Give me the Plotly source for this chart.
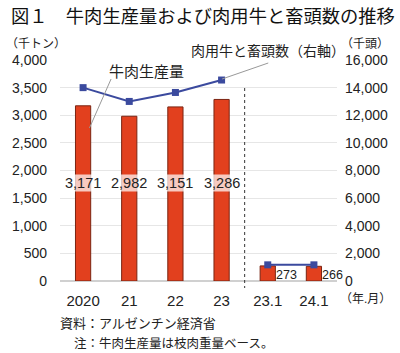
import plotly.graph_objects as go

categories = ["2020", "21", "22", "23", "23.1", "24.1"]
beef_production = [3171, 2982, 3151, 3286, 273, 266]
cattle_slaughter = [14000, 13000, 13650, 14550, None, None]
cattle_slaughter_monthly = [None, None, None, None, 1170, 1170]
bar_labels = ["3,171", "2,982", "3,151", "3,286", "273", "266"]

FONT = "Arial, Liberation Sans, Noto Sans CJK JP"
BAR = "#E2401E"
LINE = "#3B4A9E"

L, R, T, B = 60, 58, 60, 72
W, H = 400, 353
pw, ph = W - L - R, H - T - B
def px(x): return (x - L) / pw
def py(y): return (H - B - y) / ph

fig = go.Figure()
fig.add_trace(go.Bar(x=categories, y=beef_production, marker=dict(color=BAR, line=dict(color="#7A2412", width=1)),
                     width=0.33, yaxis="y", showlegend=False, hoverinfo="skip"))
fig.add_trace(go.Scatter(x=categories, y=cattle_slaughter, mode="lines+markers", yaxis="y2",
                         line=dict(color=LINE, width=2), marker=dict(symbol="square", size=7, color=LINE),
                         showlegend=False, connectgaps=False))
fig.add_trace(go.Scatter(x=categories, y=cattle_slaughter_monthly, mode="lines+markers", yaxis="y2",
                         line=dict(color=LINE, width=2), marker=dict(symbol="square", size=7, color=LINE),
                         showlegend=False, connectgaps=False))

# bar value labels
for i, (v, t) in enumerate(zip(beef_production, bar_labels)):
    if v > 1000:
        fig.add_annotation(x=i, y=1780, text=t, showarrow=False, xref="x", yref="y",
                           font=dict(size=14.5, color="#222", family=FONT),
                           bgcolor="rgba(255,255,255,0.72)", borderpad=0)
    else:
        fig.add_annotation(x=i, y=v * 0.4, text=t, showarrow=False, xref="x", yref="y",
                           xshift=19, font=dict(size=12.5, color="#222", family=FONT))

# dashed separator
fig.add_shape(type="line", x0=3.5, x1=3.5, xref="x", y0=py(88), y1=py(288), yref="paper",
              line=dict(color="#333", width=1, dash="dot"))

def ann(x, y, text, size=12, anchor="center", color="#222"):
    fig.add_annotation(x=px(x), y=py(y), xref="paper", yref="paper", xanchor=anchor, yanchor="middle",
                       text=text, showarrow=False, font=dict(size=size, color=color, family=FONT))

def seg(x0, y0, x1, y1):
    fig.add_shape(type="line", xref="paper", yref="paper", x0=px(x0), y0=py(y0), x1=px(x1), y1=py(y1),
                  line=dict(color="#999", width=1))

# callouts
ann(148, 71, "牛肉生産量", 15)
seg(112, 79, 90, 128)
ann(272, 51, "肉用牛と畜頭数（右軸）", 14)
seg(272, 63, 225, 79)

# title, units, notes
ann(8, 16, "図１　牛肉生産量および肉用牛と畜頭数の推移", 18.3, "left", "#111")
ann(3, 44, "（千トン）", 12, "left")
ann(397, 44, "（千頭）", 12, "right")
ann(343, 299, "（年.月）", 12, "left")
ann(58, 323, "資料：アルゼンチン経済省", 13, "left")
ann(72, 343, "注：牛肉生産量は枝肉重量ベース。", 12.5, "left")

fig.update_layout(
    width=W, height=H,
    margin=dict(l=L, r=R, t=T, b=B),
    paper_bgcolor="white", plot_bgcolor="white",
    font=dict(family=FONT, color="#222", size=13),
    xaxis=dict(type="category", range=[-0.5, 5.5], autorange=False, showgrid=False, showline=False,
               ticks="", tickfont=dict(size=15), ticklabelstandoff=9),
    yaxis=dict(range=[0, 4000], dtick=500, tickformat=",", showgrid=True, gridcolor="#E6E6E6",
               zeroline=True, zerolinecolor="#D0D0D0", tickfont=dict(size=14), ticklabelstandoff=12),
    yaxis2=dict(range=[0, 16000], dtick=2000, tickformat=",", overlaying="y", side="right",
                showgrid=False, zeroline=False, tickfont=dict(size=14), ticklabelstandoff=7),
)

fig.write_html("out.html")
